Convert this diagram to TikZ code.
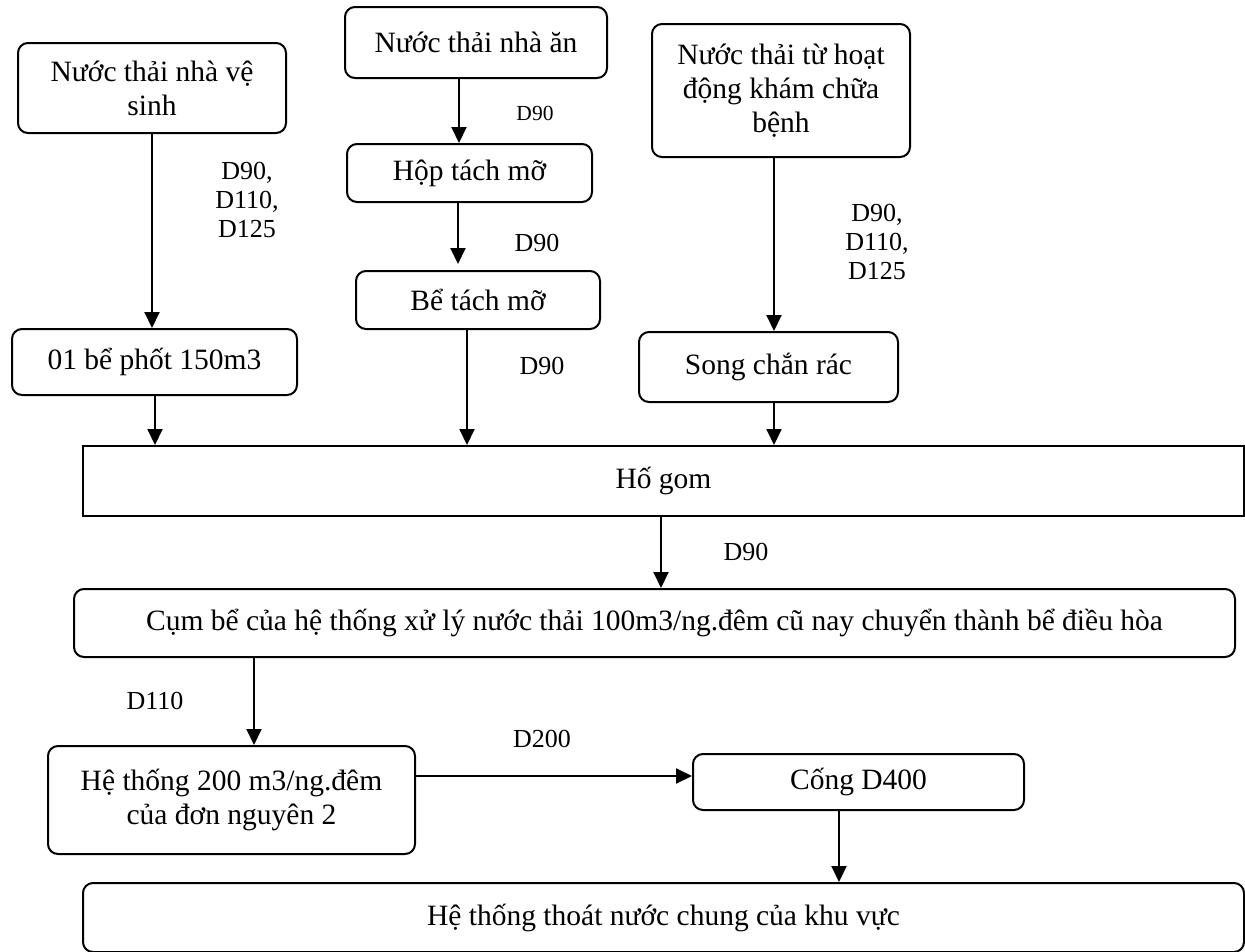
\documentclass[tikz,border=0pt]{standalone}
\usepackage{fontspec}
\setmainfont{Liberation Serif}
\usetikzlibrary{arrows.meta,calc}
\begin{document}
\begin{tikzpicture}[x=1pt,y=-1pt,
  box/.style={draw, line width=2pt, rounded corners=10pt, align=center, inner sep=0pt,
    font=\fontsize{29.5}{34}\selectfont},
  sbox/.style={box, rounded corners=0pt},
  lab/.style={align=center, inner sep=0pt, font=\fontsize{26}{29}\selectfont},
  slab/.style={lab, font=\fontsize{21.5}{25}\selectfont},
  arr/.style={line width=2pt, -{Triangle[width=15pt,length=16pt]}}]
\useasboundingbox (0,0) rectangle (1245,951);
\clip (0,0) rectangle (1245,951);
% boxes
\node[box, minimum width=268, minimum height=90] (A) at (152,88) {Nước thải nhà vệ\\sinh};
\node[box, minimum width=285, minimum height=66] (B) at (154.5,362) {01 bể phốt 150m3};
\node[box, minimum width=262, minimum height=71] (C) at (476,42.5) {Nước thải nhà ăn};
\node[box, minimum width=245, minimum height=58] (D) at (469.5,173) {Hộp tách mỡ};
\node[box, minimum width=244, minimum height=58] (E) at (478,300) {Bể tách mỡ};
\node[box, minimum width=258, minimum height=133] (F) at (781,90.5) {Nước thải từ hoạt\\động khám chữa\\bệnh};
\node[box, minimum width=259, minimum height=70] (G) at (768.5,367) {Song chắn rác};
\node[sbox, minimum width=1161, minimum height=70] (HG) at (663.5,481) {Hố gom};
\node[box, minimum width=1161, minimum height=68] (K) at (654.5,623) {Cụm bể của hệ thống xử lý nước thải 100m3/ng.đêm cũ nay chuyển thành bể điều hòa};
\node[box, minimum width=367, minimum height=108] (H) at (231.5,800) {Hệ thống 200 m3/ng.đêm\\của đơn nguyên 2};
\node[box, minimum width=331, minimum height=56] (I) at (858.5,782) {Cống D400};
\node[box, minimum width=1161, minimum height=69] (J) at (663.5,917.5) {Hệ thống thoát nước chung của khu vực};
% labels
\node[lab] (l1) at (247,200) {D90,\\D110,\\D125};
\node[slab] (l2) at (535,113) {D90};
\node[lab] (l3) at (537,243) {D90};
\node[lab] (l4) at (542,366) {D90};
\node[lab] (l5) at (877,242) {D90,\\D110,\\D125};
\node[lab] (l6) at (746,552) {D90};
\node[lab] (l7) at (155,701) {D110};
\node[lab] (l8) at (542,739) {D200};
% connector start points
\coordinate (a1) at (A.south);
\coordinate (b1) at ([xshift=0.5pt]B.south);
\coordinate (c1) at ([xshift=-17pt]C.south);
\coordinate (d1) at ([xshift=-11.5pt]D.south);
\coordinate (e1) at ([xshift=-11pt]E.south);
\coordinate (f1) at ([xshift=-7pt]F.south);
\coordinate (g1) at ([xshift=5.5pt]G.south);
\coordinate (hg1) at ([xshift=-2.5pt]HG.south);
\coordinate (k1) at ([xshift=-400.5pt]K.south);
\coordinate (h1) at ([yshift=24pt]H.east);
\coordinate (i1) at ([xshift=-19.5pt]I.south);
% connectors
\draw[arr] (a1) -- (a1 |- B.north);
\draw[arr] (b1) -- (b1 |- HG.north);
\draw[arr] (c1) -- (c1 |- D.north);
\draw[arr] (d1) -- ([yshift=6pt]d1 |- E.north);
\draw[arr] (e1) -- (e1 |- HG.north);
\draw[arr] (f1) -- (f1 |- G.north);
\draw[arr] (g1) -- (g1 |- HG.north);
\draw[arr] (hg1) -- (hg1 |- K.north);
\draw[arr] (k1) -- (k1 |- H.north);
\draw[arr] (h1) -- (h1 -| I.west);
\draw[arr] (i1) -- (i1 |- J.north);
\end{tikzpicture}
\end{document}
